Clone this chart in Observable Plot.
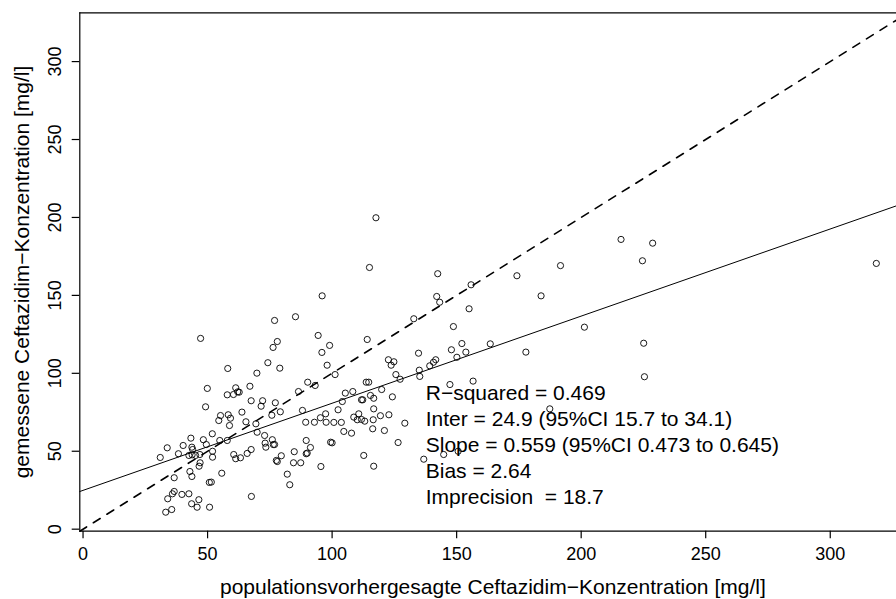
<!DOCTYPE html>
<html>
<head>
<meta charset="utf-8">
<script src="https://cdn.jsdelivr.net/npm/d3@7"></script>
<script src="https://cdn.jsdelivr.net/npm/@observablehq/plot@0.6"></script>
<style>
  html, body { margin: 0; padding: 0; background: #fff; overflow: hidden; }
  #chart { width: 896px; height: 599px; }
</style>
</head>
<body>
<div id="chart"></div>
<script>
// population-predicted concentration (x) and measured concentration (y), mg/l
const predicted = [
  47.2,76.9,85.3,94.4,78.0,76.3,95.9,99.0,74.2,79.0,
  58.1,69.8,98.0,49.9,67.0,61.3,62.1,62.7,57.9,60.4,
  90.2,93.2,86.5,49.2,67.5,72.1,71.5,77.2,79.2,75.8,
  63.8,55.2,58.3,59.2,54.5,58.8,65.4,69.4,69.9,88.1,
  89.4,92.9,95.3,97.4,97.6,51.9,48.3,43.3,40.2,33.8,
  31.0,38.3,43.7,44.0,49.5,52.0,52.0,46.9,42.5,45.2,
  43.8,47.0,46.6,54.9,57.9,42.9,43.7,36.6,51.5,50.7,
  55.7,36.6,35.9,39.7,42.5,34.0,43.6,46.5,45.8,50.8,
  33.2,35.6,67.6,60.5,61.3,63.2,65.9,67.5,72.9,73.1,
  73.4,76.0,76.4,76.9,77.6,78.0,79.6,82.0,83.0,84.5,
  84.8,87.4,89.6,90.0,89.6,91.3,95.5,
  143.2,155.0,132.8,148.7,201.3,114.1,152.1,163.5,147.9,153.7,
  134.7,177.8,150.1,101.2,122.6,124.8,123.7,141.6,140.7,139.2,
  135.0,135.2,125.6,127.3,113.7,114.7,147.3,156.6,105.3,108.3,
  119.9,115.4,116.7,111.8,112.3,104.1,124.2,102.4,116.7,187.4,
  100.7,103.7,108.7,110.7,110.1,113.1,111.8,116.5,119.4,122.8,
  129.2,116.3,104.7,107.8,121.0,99.4,100.0,126.5,112.7,116.7,
  136.8,144.8,150.6,
  117.6,115.0,142.4,96.0,174.2,183.9,142.0,155.8,216.0,228.7,
  224.6,318.5,225.1,225.4,191.7
];
const measured = [
  122.4,133.9,136.3,124.3,120.4,116.6,113.4,117.9,106.8,103.3,
  103.1,100.1,105.2,90.3,91.7,90.7,88.1,87.9,86.2,86.4,
  94.3,92.2,88.3,78.5,82.4,82.4,78.9,81.1,75.3,73.1,
  75.1,72.9,73.4,71.2,69.7,66.5,68.9,67.6,62.2,76.2,
  68.6,68.6,71.5,74.0,68.6,61.2,57.4,58.4,53.7,52.2,
  46.0,48.4,52.6,51.1,54.3,50.0,46.2,47.9,47.3,47.3,
  47.7,42.6,40.4,56.9,56.9,37.0,33.8,33.0,30.2,30.0,
  35.9,24.2,22.7,22.3,22.7,19.5,16.3,18.9,14.1,14.1,
  10.9,12.6,21.0,47.9,45.2,45.8,48.6,51.1,60.1,55.2,
  52.6,57.4,54.3,54.3,44.1,43.4,47.1,35.3,28.5,42.6,
  49.7,42.6,48.4,48.8,56.9,52.4,40.2,
  145.6,141.4,135.0,130.0,129.6,121.7,119.1,118.9,115.1,113.6,
  112.9,113.6,110.3,99.2,108.7,107.4,105.2,108.7,107.1,104.8,
  102.0,98.0,99.2,96.2,94.3,94.3,92.8,95.0,87.3,88.3,
  89.6,85.8,84.0,83.0,83.0,81.9,84.9,76.6,77.2,77.2,
  68.5,68.5,71.9,74.0,70.2,69.3,70.4,70.2,72.8,73.4,
  68.0,64.4,62.7,61.6,63.3,55.8,55.4,55.6,47.3,40.4,
  44.9,47.9,50.0,
  199.8,167.9,163.9,149.7,162.6,149.7,149.3,156.8,185.9,183.5,
  172.2,170.5,119.3,97.8,169.1
];

const xTicks = [0, 50, 100, 150, 200, 250, 300];
const yTicks = [0, 50, 100, 150, 200, 250, 300];
const xDomain = [-1.3, 326.6];
const yDomain = [-1.3, 331.3];

const fitIntercept = 24.9;
const fitSlope = 0.559;

const statLines = [
  "R−squared = 0.469",
  "Inter = 24.9 (95%CI 15.7 to 34.1)",
  "Slope = 0.559 (95%CI 0.473 to 0.645)",
  "Bias = 2.64",
  "Imprecision  = 18.7"
];
const xTitle = "populationsvorhergesagte Ceftazidim−Konzentration [mg/l]";
const yTitle = "gemessene Ceftazidim−Konzentration [mg/l]";

const points = predicted.map((x, i) => ({x, y: measured[i]}));
const fitLine = xDomain.map(x => ({x, y: fitIntercept + fitSlope * x}));
const identityLine = xDomain.map(x => ({x, y: x}));

const plot = Plot.plot({
  width: 896,
  height: 599,
  marginLeft: 79.3,
  marginRight: 0,
  marginTop: 12.3,
  marginBottom: 68.3,
  style: {fontFamily: "'Liberation Sans', Arial, Helvetica, sans-serif", color: "black", background: "white", overflow: "hidden"},
  x: {domain: xDomain},
  y: {domain: yDomain},
  marks: [
    Plot.ruleX([xDomain[0]], {stroke: "black", strokeWidth: 1.2}),
    Plot.ruleY([yDomain[0]], {stroke: "black", strokeWidth: 1.2}),
    Plot.ruleY([yDomain[1]], {stroke: "black", strokeWidth: 1.2}),
    Plot.axisX({ticks: xTicks, tickSize: 7.6, tickPadding: 8.5, fontSize: 18, label: null, stroke: "black", strokeWidth: 1.2, fill: "black"}),
    Plot.axisY({ticks: yTicks, tickSize: 7.6, tickFormat: () => "", label: null, stroke: "black", strokeWidth: 1.2}),
    Plot.text(yTicks, {y: d => d, text: d => String(d), frameAnchor: "left", dx: -24.1, rotate: -90, fontSize: 18, textAnchor: "middle", lineAnchor: "middle", fill: "black"}),
    Plot.text([xTitle], {frameAnchor: "bottom", dx: 4.7, dy: 62.3, fontSize: 21, lineAnchor: "bottom", textAnchor: "middle", fill: "black"}),
    Plot.text([yTitle], {frameAnchor: "left", dx: -57.3, rotate: -90, fontSize: 21, lineAnchor: "middle", textAnchor: "middle", fill: "black"}),
    Plot.dot(points, {x: "x", y: "y", r: 3.1, stroke: "black", strokeWidth: 0.9, fill: "none"}),
    Plot.line(identityLine, {x: "x", y: "y", stroke: "black", strokeWidth: 1.6, strokeDasharray: "8,8"}),
    Plot.line(fitLine, {x: "x", y: "y", stroke: "black", strokeWidth: 1}),
    Plot.text([statLines.join("\n")], {x: 137.6, y: 54.7, textAnchor: "start", lineAnchor: "middle", lineHeight: 1.238, fontSize: 21, fill: "black"})
  ]
});
document.getElementById("chart").appendChild(plot);
</script>
</body>
</html>
